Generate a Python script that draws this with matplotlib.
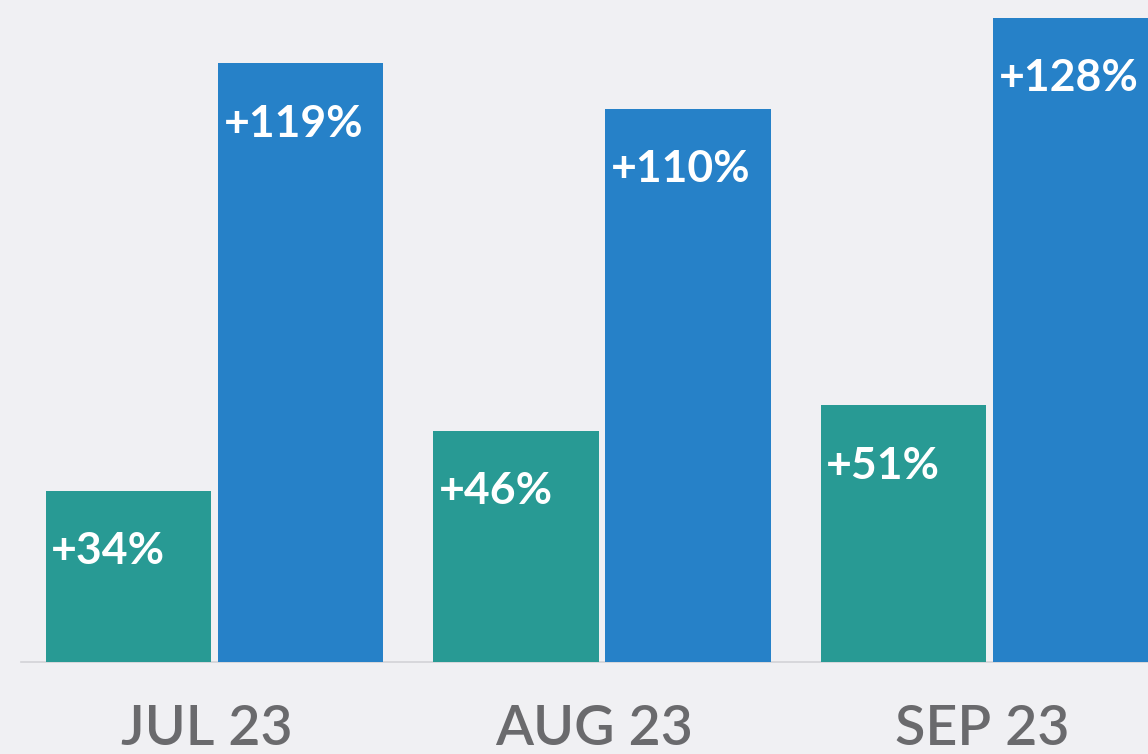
import matplotlib.pyplot as plt
import numpy as np

# data
months = ['JUL 23', 'AUG 23', 'SEP 23']
teal_vals = [34, 46, 51]
blue_vals = [119, 110, 128]

teal_color = '#289a94'
blue_color = '#2681c8'
bg_color = '#f0f0f3'

plt.rcParams['font.family'] = ['Lato', 'DejaVu Sans']

fig = plt.figure(figsize=(11.48, 7.54), dpi=100)
fig.patch.set_facecolor(bg_color)
ax = fig.add_axes([0, 0, 1, 1])
ax.set_facecolor(bg_color)

x = np.arange(len(months))
width = 0.428
offset = 0.222

teal_bars = ax.bar(x - offset, teal_vals, width, color=teal_color, zorder=2)
blue_bars = ax.bar(x + offset, blue_vals, width, color=blue_color, zorder=2)

ax.set_xlim(-0.5535, 2.409)
ax.set_ylim(-18.3, 131.6)

# baseline
ax.axhline(0, xmin=0.018, xmax=1, color='#d2d3d7', linewidth=1.2, zorder=1)

# value labels inside bars
for bars, vals in [(teal_bars, teal_vals), (blue_bars, blue_vals)]:
    for bar, v in zip(bars, vals):
        ax.text(bar.get_x() + 0.015, v - 12, f'+{v}%', color='white',
                fontsize=32, fontweight='bold', ha='left', va='center', zorder=3)

# month labels
for xi, m in zip(x, months):
    ax.text(xi - 0.02, -13.3, m, color='#6a6a6d', fontsize=40, fontweight='semibold',
            ha='center', va='center')

ax.axis('off')
plt.savefig('out.png', dpi=100, facecolor=bg_color)
